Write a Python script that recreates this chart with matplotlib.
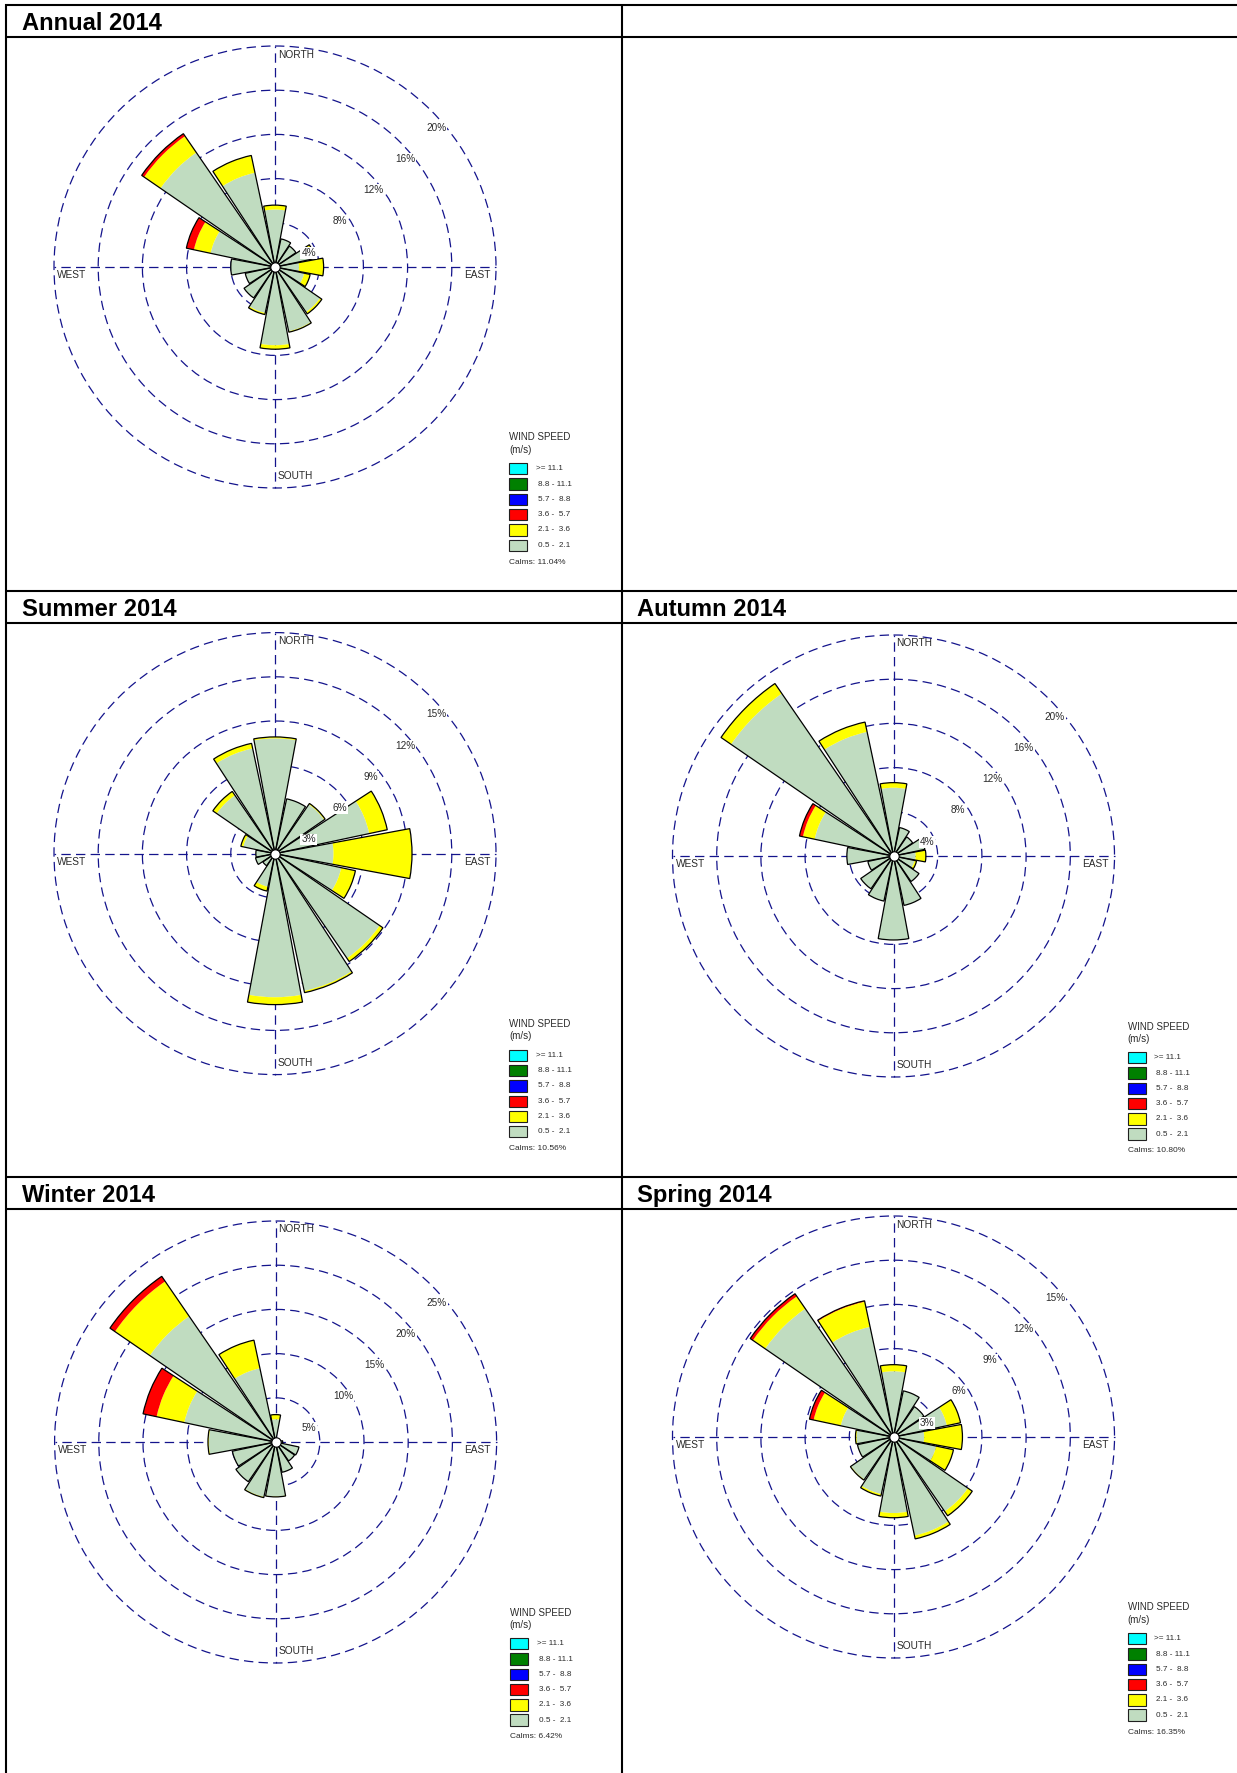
import numpy as np
import matplotlib
matplotlib.use("Agg")
import matplotlib.pyplot as plt
from matplotlib.patches import Rectangle

plt.rcParams["font.family"] = ["Liberation Sans", "DejaVu Sans"]

# ---------------------------------------------------------------- data
DIRECTIONS = ["N", "NNE", "NE", "ENE", "E", "ESE", "SE", "SSE",
              "S", "SSW", "SW", "WSW", "W", "WNW", "NW", "NNW"]

SPEED_CLASSES = [">= 11.1", "8.8 - 11.1", "5.7 -  8.8",
                 "3.6 -  5.7", "2.1 -  3.6", "0.5 -  2.1"]
CLASS_COLORS = ["#00FFFF", "#008000", "#0000FF",
                "#FF0000", "#FFFF00", "#C0DCC0"]

# frequency (%) per direction for the speed classes 0.5-2.1, 2.1-3.6, 3.6-5.7
ANNUAL_LOW = [5.2, 2.6, 2.3, 3.2, 2.17, 2.7, 4.95, 5.95, 7.08, 4.25, 3.4, 2.75, 4.0, 5.96, 12.57, 8.72]
ANNUAL_MID = [0.4, 0, 0, 0.5, 2.23, 0.55, 0.2, 0.08, 0.36, 0.15, 0, 0, 0, 1.54, 1.8, 1.6]
ANNUAL_HIGH = [0, 0, 0, 0, 0, 0, 0, 0, 0, 0, 0, 0, 0, 0.7, 0.27, 0]

SUMMER_LOW = [7.82, 3.8, 4.05, 6.54, 3.97, 4.6, 8.62, 9.53, 9.75, 2.3, 1.0, 1.35, 1.3, 2.2, 4.8, 7.3]
SUMMER_MID = [0.1, 0, 0.08, 1.25, 5.33, 0.98, 0.27, 0.12, 0.5, 0.3, 0, 0, 0, 0.17, 0.32, 0.35]
SUMMER_HIGH = [0] * 16

AUTUMN_LOW = [6.18, 2.63, 2.1, 2.9, 2.0, 1.95, 2.8, 4.57, 7.6, 4.17, 3.6, 2.37, 4.22, 7.3, 17.84, 11.48]
AUTUMN_MID = [0.46, 0, 0, 0, 0.93, 0.18, 0, 0, 0, 0, 0, 0, 0, 1.08, 1.1, 0.91]
AUTUMN_HIGH = [0, 0, 0, 0, 0, 0, 0, 0, 0, 0, 0, 0, 0, 0.32, 0, 0]

WINTER_LOW = [2.57, 0.4, 0.4, 0.45, 0.8, 2.7, 2.6, 3.5, 6.16, 6.35, 5.45, 5.0, 7.55, 10.56, 17.26, 8.53]
WINTER_MID = [0.53, 0, 0, 0, 0, 0, 0, 0, 0.05, 0.08, 0, 0, 0.1, 3.2, 4.79, 3.25]
WINTER_HIGH = [0, 0, 0, 0, 0, 0, 0, 0, 0, 0, 0, 0, 0, 1.57, 0.69, 0]

SPRING_LOW = [4.46, 3.2, 2.5, 3.7, 2.08, 2.96, 6.13, 6.84, 5.16, 3.96, 3.5, 2.5, 2.5, 3.66, 10.57, 7.64]
SPRING_MID = [0.45, 0, 0, 0.95, 2.6, 1.2, 0.36, 0.23, 0.32, 0.14, 0.05, 0, 0.08, 1.88, 1.01, 1.75]
SPRING_HIGH = [0, 0, 0, 0, 0, 0, 0, 0, 0, 0, 0, 0, 0, 0.29, 0.22, 0.06]

ANNUAL_RINGS = [4, 8, 12, 16, 20]
SUMMER_RINGS = [3, 6, 9, 12, 15]
AUTUMN_RINGS = [4, 8, 12, 16, 20]
WINTER_RINGS = [5, 10, 15, 20, 25]
SPRING_RINGS = [3, 6, 9, 12, 15]

CALMS = {"Annual 2014": 11.04, "Summer 2014": 10.56, "Autumn 2014": 10.80,
         "Winter 2014": 6.42, "Spring 2014": 16.35}

# ---------------------------------------------------------------- figure
W, H, DPI = 1237, 1773, 100
fig = plt.figure(figsize=(W / DPI, H / DPI), dpi=DPI)
fig.patch.set_facecolor("white")

page = fig.add_axes([0, 0, 1, 1])
page.set_xlim(0, W)
page.set_ylim(H, 0)
page.axis("off")

# panel grid
LEFT_X, MID_X = 6, 621.5
for y in [4.5, 36.5, 590.5, 622.6, 1176.5, 1208.8]:
    page.plot([LEFT_X - 1, W], [y, y], color="black", lw=1.5, solid_capstyle="butt")
for x in [LEFT_X, MID_X]:
    page.plot([x, x], [3.5, H], color="black", lw=1.5, solid_capstyle="butt")

RING_COLOR = "#14148c"
RING_LW = 0.9
RING_STYLE = (0, (7.5, 4.2))
TEXT_COLOR = "#2a2a2a"
R_PX = 221.0      # pixel radius of the outermost ring
PAD = 1.03        # head-room so the outer ring is not clipped

panels = [
    ("Annual 2014", LEFT_X, 4.5, (275.0, 267.0), ANNUAL_RINGS, (ANNUAL_LOW, ANNUAL_MID, ANNUAL_HIGH)),
    ("Summer 2014", LEFT_X, 590.5, (275.0, 853.6), SUMMER_RINGS, (SUMMER_LOW, SUMMER_MID, SUMMER_HIGH)),
    ("Autumn 2014", MID_X, 590.5, (893.5, 856.0), AUTUMN_RINGS, (AUTUMN_LOW, AUTUMN_MID, AUTUMN_HIGH)),
    ("Winter 2014", LEFT_X, 1176.5, (275.6, 1442.0), WINTER_RINGS, (WINTER_LOW, WINTER_MID, WINTER_HIGH)),
    ("Spring 2014", MID_X, 1176.5, (893.5, 1437.0), SPRING_RINGS, (SPRING_LOW, SPRING_MID, SPRING_HIGH)),
]

theta = np.deg2rad(np.arange(16) * 22.5)
bar_width = np.deg2rad(21.0)
seg_colors = [CLASS_COLORS[5], CLASS_COLORS[4], CLASS_COLORS[3]]

for title, x0, y0, (cx, cy), rings, segments in panels:
    # panel title
    page.text(x0 + 15.5, y0 + 25.8, title, fontsize=17.1, fontweight="bold",
              color="black", ha="left", va="baseline")

    rmax = rings[-1]
    rp = R_PX * PAD
    ax = fig.add_axes([(cx - rp) / W, 1 - (cy + rp) / H, 2 * rp / W, 2 * rp / H],
                      projection="polar")
    ax.set_theta_zero_location("N")
    ax.set_theta_direction(-1)
    ax.set_ylim(0, rmax * PAD)
    ax.set_rgrids(rings, labels=[""] * len(rings))
    ax.set_thetagrids([0, 90, 180, 270], labels=[""] * 4)
    ax.yaxis.grid(True, color=RING_COLOR, lw=RING_LW, linestyle=RING_STYLE)
    ax.xaxis.grid(False)
    ax.spines["polar"].set_visible(False)
    ax.set_facecolor("none")
    ax.set_axisbelow(True)

    # compass cross
    for ang in [0, 90, 180, 270]:
        a = np.deg2rad(ang)
        ax.plot([a, a], [0, rmax], color=RING_COLOR, lw=RING_LW, linestyle=RING_STYLE, zorder=1)

    bottom = np.zeros(16)
    for vals, col in zip(segments, seg_colors):
        vals = np.asarray(vals, dtype=float)
        ax.bar(theta, vals, width=bar_width, bottom=bottom, color=col,
               edgecolor="none", linewidth=0, zorder=3)
        bottom = bottom + vals
    ax.bar(theta, bottom, width=bar_width, bottom=0, facecolor="none",
           edgecolor="black", linewidth=0.9, zorder=4)

    # calm circle
    ax.scatter([0], [0], s=46, c="white", edgecolors="black", linewidths=0.8,
               zorder=5, clip_on=False)

    # ring labels along the north-east diagonal
    for v in rings:
        ax.annotate(f"{v}%", xy=(np.deg2rad(45), v), xytext=(-5, -17),
                    textcoords="offset pixels", ha="left", va="center",
                    fontsize=7.2, color=TEXT_COLOR, zorder=6, annotation_clip=False,
                    bbox=dict(boxstyle="square,pad=0.08", fc="white", ec="none"))

    # compass labels
    page.text(cx + 3, cy - 212.5, "NORTH", fontsize=7.3, color=TEXT_COLOR, ha="left", va="center")
    page.text(cx + 3, cy + 209.3, "SOUTH", fontsize=7.3, color=TEXT_COLOR, ha="left", va="center")
    page.text(cx - 217.7, cy + 8.4, "WEST", fontsize=7.3, color=TEXT_COLOR, ha="left", va="center")
    page.text(cx + 215.3, cy + 8.4, "EAST", fontsize=7.3, color=TEXT_COLOR, ha="right", va="center")

    # legend
    lx, ly = cx + 234, cy + 170.5
    page.text(lx, ly, "WIND SPEED", fontsize=7.0, color=TEXT_COLOR, ha="left", va="center")
    page.text(lx, ly + 12.1, "(m/s)", fontsize=7.0, color=TEXT_COLOR, ha="left", va="center")
    for i, (lab, col) in enumerate(zip(SPEED_CLASSES, CLASS_COLORS)):
        ry = ly + 31.3 + i * 15.27
        page.add_patch(Rectangle((lx, ry - 5.65), 18, 11.3, facecolor=col,
                                 edgecolor="#202020", lw=0.8))
        page.text(lx + (27 if i == 0 else 29), ry, lab, fontsize=5.9,
                  color=TEXT_COLOR, ha="left", va="center")
    page.text(lx, ly + 124.5, f"Calms: {CALMS[title]:.2f}%", fontsize=6.0,
              color=TEXT_COLOR, ha="left", va="center")

fig.savefig("out.png", dpi=DPI, facecolor="white")
